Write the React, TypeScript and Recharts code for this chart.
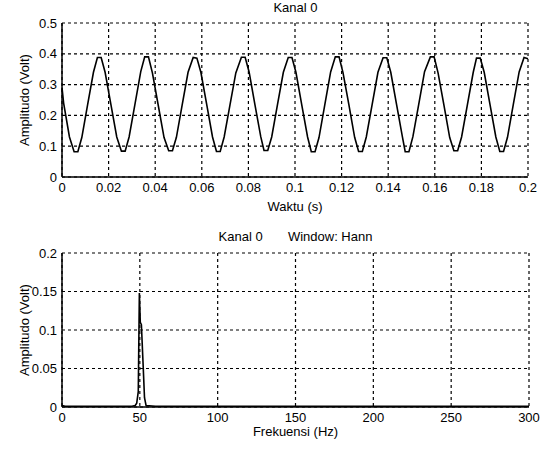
import { LineChart, Line, XAxis, YAxis, CartesianGrid } from 'recharts';

// Kanal 0 - sinyal waktu (s) vs amplitudo (Volt)
const waktu = [
  0, 0.0007, 0.0032,
  0.0052, 0.0068, 0.0085, 0.011, 0.0135, 0.0152, 0.0168, 0.0185, 0.021, 0.0235,
  0.0255, 0.0271, 0.0288, 0.0313, 0.0338, 0.0355, 0.0371, 0.0388, 0.0413, 0.0438,
  0.0458, 0.0474, 0.0491, 0.0516, 0.0541, 0.0563, 0.0579, 0.0596, 0.0621, 0.0646,
  0.0663, 0.0679, 0.0696, 0.0721, 0.0746, 0.077, 0.0786, 0.0803, 0.0828, 0.0853,
  0.0867, 0.0883, 0.09, 0.0925, 0.095, 0.0971, 0.0987, 0.1004, 0.1029, 0.1054,
  0.107, 0.1086, 0.1103, 0.1128, 0.1153, 0.1173, 0.1189, 0.1206, 0.1231, 0.1256,
  0.1273, 0.1289, 0.1306, 0.1331, 0.1356, 0.1378, 0.1394, 0.1411, 0.1436, 0.1461,
  0.1473, 0.1489, 0.1506, 0.1531, 0.1556, 0.1581, 0.1597, 0.1614, 0.1639, 0.1664,
  0.1682, 0.1698, 0.1715, 0.174, 0.1765, 0.1779, 0.1795, 0.1812, 0.1837, 0.1862,
  0.1879, 0.1895, 0.1912, 0.1937, 0.1962, 0.1983, 0.2,
];
const amplitudo = [
  0.29, 0.24, 0.13,
  0.082, 0.082, 0.128, 0.235, 0.34, 0.388, 0.388, 0.34, 0.235, 0.13,
  0.084, 0.084, 0.13, 0.236, 0.342, 0.39, 0.39, 0.338, 0.233, 0.128,
  0.085, 0.085, 0.129, 0.235, 0.34, 0.388, 0.386, 0.34, 0.236, 0.13,
  0.083, 0.083, 0.13, 0.234, 0.338, 0.389, 0.389, 0.341, 0.235, 0.131,
  0.086, 0.086, 0.13, 0.236, 0.34, 0.388, 0.388, 0.34, 0.234, 0.13,
  0.082, 0.082, 0.128, 0.235, 0.341, 0.39, 0.39, 0.339, 0.236, 0.129,
  0.083, 0.083, 0.13, 0.235, 0.34, 0.387, 0.387, 0.34, 0.235, 0.13,
  0.082, 0.082, 0.131, 0.236, 0.342, 0.39, 0.39, 0.338, 0.234, 0.128,
  0.085, 0.085, 0.13, 0.235, 0.34, 0.386, 0.386, 0.34, 0.235, 0.13,
  0.083, 0.083, 0.129, 0.236, 0.341, 0.388, 0.384,
];
const waktuTicks = [0, 0.02, 0.04, 0.06, 0.08, 0.1, 0.12, 0.14, 0.16, 0.18, 0.2];
const ampTicks = [0, 0.1, 0.2, 0.3, 0.4, 0.5];

// spektrum (Window: Hann)
const frekuensi = [0, 2, 5, 10, 20, 30, 40, 45, 47, 48, 49, 49.7, 50.3, 51, 52, 53, 54, 60, 80, 100, 150, 200, 250, 300];
const amplitudoFft = [0.002, 0.001, 0.001, 0.001, 0.001, 0.001, 0.001, 0.001, 0.002, 0.005, 0.02, 0.148, 0.11, 0.107, 0.06, 0.012, 0.002, 0.001, 0.001, 0.001, 0.001, 0.001, 0.001, 0.001];
const frekTicks = [0, 50, 100, 150, 200, 250, 300];
const fftTicks = [0, 0.05, 0.1, 0.15, 0.2];

const font = '"Liberation Sans", Arial, sans-serif';
const tickStyle = { fill: '#000', fontSize: 13, fontFamily: font };
const labelStyle = { fill: '#000', fontSize: 13, fontFamily: font, textAnchor: 'middle' as const };

const sinyalData = waktu.map((t, i) => ({ t, v: amplitudo[i] }));
const fftData = frekuensi.map((f, i) => ({ f, v: amplitudoFft[i] }));

function Title({ top, children }: { top: number; children: React.ReactNode }) {
  return (
    <div
      style={{
        position: 'absolute',
        top,
        left: 62,
        width: 467,
        height: 16,
        lineHeight: '16px',
        textAlign: 'center',
        whiteSpace: 'pre',
        fontSize: 13,
        fontFamily: font,
        color: '#000',
      }}
    >
      {children}
    </div>
  );
}

export default function App() {
  return (
    <div style={{ position: 'absolute', left: 0, top: 0, width: 551, height: 449, background: '#fff', fontFamily: font }}>
      <Title top={0}>Kanal 0</Title>
      <div style={{ position: 'absolute', left: 0, top: 0 }}>
        <LineChart width={551} height={220} data={sinyalData} margin={{ top: 23, right: 23, bottom: 0, left: 0 }}>
          <CartesianGrid stroke="#000" strokeDasharray="3 3" strokeWidth={1.2} />
          <XAxis
            dataKey="t"
            type="number"
            domain={[0, 0.2]}
            ticks={waktuTicks}
            height={43}
            tickLine={false}
            tickSize={4}
            tickMargin={2}
            tick={tickStyle}
            axisLine={{ stroke: '#000', strokeWidth: 1.5 }}
            label={{ value: 'Waktu (s)', position: 'insideBottom', offset: 9, style: labelStyle }}
          />
          <XAxis xAxisId="top" orientation="top" type="number" domain={[0, 0.2]} height={0} tick={false} tickLine={false} axisLine={{ stroke: '#000', strokeWidth: 1.5 }} />
          <YAxis
            type="number"
            domain={[0, 0.5]}
            ticks={ampTicks}
            width={62}
            tickLine={false}
            tickSize={3}
            tickMargin={2}
            tick={tickStyle}
            axisLine={{ stroke: '#000', strokeWidth: 1.5 }}
            label={{ value: 'Amplitudo (Volt)', angle: -90, position: 'insideLeft', offset: 24, style: labelStyle }}
          />
          <YAxis yAxisId="right" orientation="right" type="number" domain={[0, 0.5]} width={0} tick={false} tickLine={false} axisLine={{ stroke: '#000', strokeWidth: 1.5 }} />
          <Line dataKey="v" type="linear" stroke="#000" strokeWidth={1.6} dot={false} isAnimationActive={false} />
        </LineChart>
      </div>

      <Title top={229}>{'Kanal 0       Window: Hann'}</Title>
      <div style={{ position: 'absolute', left: 0, top: 220 }}>
        <LineChart width={551} height={229} data={fftData} margin={{ top: 33, right: 22, bottom: 0, left: 0 }}>
          <CartesianGrid stroke="#000" strokeDasharray="3 3" strokeWidth={1.2} />
          <XAxis
            dataKey="f"
            type="number"
            domain={[0, 300]}
            ticks={frekTicks}
            height={42}
            tickLine={false}
            tickSize={4}
            tickMargin={2}
            tick={tickStyle}
            axisLine={{ stroke: '#000', strokeWidth: 1.5 }}
            label={{ value: 'Frekuensi (Hz)', position: 'insideBottom', offset: 13, style: labelStyle }}
          />
          <XAxis xAxisId="top" orientation="top" type="number" domain={[0, 300]} height={0} tick={false} tickLine={false} axisLine={{ stroke: '#000', strokeWidth: 1.5 }} />
          <YAxis
            type="number"
            domain={[0, 0.2]}
            ticks={fftTicks}
            width={62}
            tickLine={false}
            tickSize={3}
            tickMargin={2}
            tick={tickStyle}
            axisLine={{ stroke: '#000', strokeWidth: 1.5 }}
            label={{ value: 'Amplitudo (Volt)', angle: -90, position: 'insideLeft', offset: 24, style: labelStyle }}
          />
          <YAxis yAxisId="right" orientation="right" type="number" domain={[0, 0.2]} width={0} tick={false} tickLine={false} axisLine={{ stroke: '#000', strokeWidth: 1.5 }} />
          <Line dataKey="v" type="linear" stroke="#000" strokeWidth={1.6} dot={false} isAnimationActive={false} />
        </LineChart>
      </div>
    </div>
  );
}
